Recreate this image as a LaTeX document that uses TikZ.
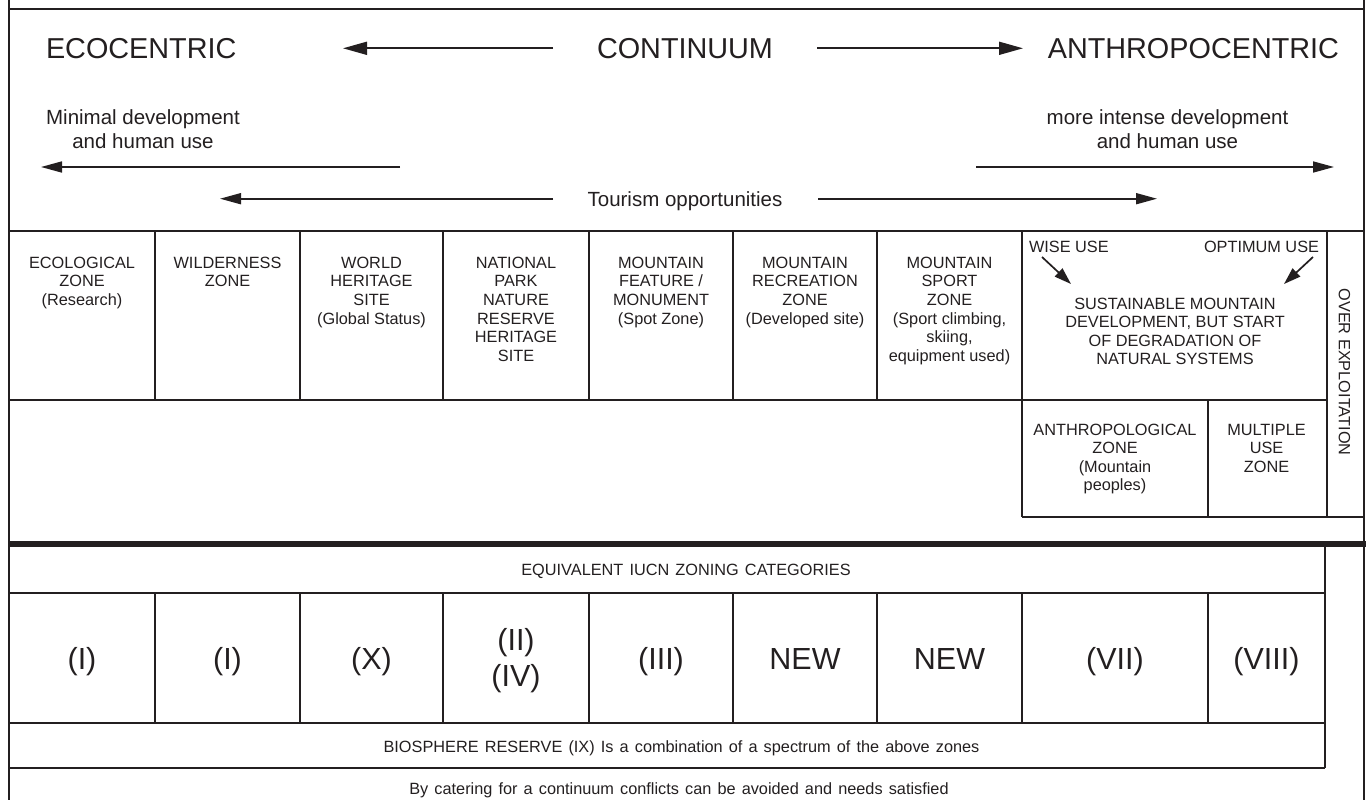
\documentclass[tikz,border=0pt]{standalone}
\usepackage{fontspec}
\setmainfont{Liberation Sans}
\newfontfamily\notefont{Liberation Sans}[WordSpace=1.35]
\usetikzlibrary{arrows.meta}
\definecolor{ink}{RGB}{35,31,32}

\begin{document}
\begin{tikzpicture}[x=1pt,y=-1pt,
  every node/.style={inner sep=0pt, outer sep=0pt, text=ink},
  frame/.style={draw=ink, line width=2.2pt},
  rule/.style={draw=ink, line width=1.8pt},
  heavy/.style={draw=ink, line width=5.5pt},
  big/.style={font=\fontsize{28.8}{34}\selectfont},
  mid/.style={font=\fontsize{20.5}{24}\selectfont},
  cell/.style={font=\fontsize{16.3}{18.6}\selectfont, align=center, anchor=north},
  numeral/.style={font=\fontsize{30.5}{36}\selectfont, anchor=base},
  note/.style={font=\notefont\fontsize{16.3}{20}\selectfont, anchor=base},
  longarrow/.style={draw=ink, line width=1.7pt, -{Triangle[length=24pt,width=13pt]}},
  arrow/.style={draw=ink, line width=1.7pt, -{Triangle[length=21pt,width=11pt]}},
  pointer/.style={draw=ink, line width=1.7pt, -{Triangle[length=17pt,width=11pt]}},
]
\useasboundingbox (0,0) rectangle (1369,800);

% ---------- frame and grid ----------
\draw[frame] (9,0) -- (9,800);
\draw[frame] (1364,0) -- (1364,800);
\draw[frame] (9,9) -- (1364,9);
\draw[rule] (9,231) -- (1364,231);
\foreach \x in {155,300,443,589,733,877} \draw[rule] (\x,231) -- (\x,400);
\draw[rule] (1022,231) -- (1022,517);
\draw[rule] (1327,231) -- (1327,517);
\draw[rule] (9,400) -- (1327,400);
\draw[rule] (1208,400) -- (1208,517);
\draw[rule] (1022,517) -- (1364,517);
\draw[heavy] (9,544) -- (1366,544);
\draw[rule] (9,593) -- (1325,593);
\draw[rule] (9,723) -- (1325,723);
\draw[rule] (9,768) -- (1325,768);
\draw[rule] (1325,544) -- (1325,768);
\foreach \x in {155,300,443,589,733,877,1022,1208} \draw[rule] (\x,593) -- (\x,723);

% ---------- headline: the continuum ----------
\node[big, anchor=base west] (eco) at (46,58.3) {ECOCENTRIC};
\node[big, anchor=base] (cont) at (685,58.3) {CONTINUUM};
\node[big, anchor=base east] (anthro) at (1339,58.3) {ANTHROPOCENTRIC};
\coordinate (contL) at (553,48.3);
\coordinate (contR) at (817,48.3);
\coordinate (ecoTip) at (343,48.3);
\coordinate (anthroTip) at (1023,48.3);
\draw[longarrow] (contL) -- (ecoTip);
\draw[longarrow] (contR) -- (anthroTip);

% ---------- development intensity ----------
\node[mid, align=center, anchor=north] (minimal) at (143,110) {Minimal development\\and human use};
\node[mid, align=center, anchor=north] (intense) at (1167.5,110) {more intense development\\and human use};
\coordinate (minStart) at (400,167);
\coordinate (minTip) at (41,167);
\coordinate (intStart) at (976,167);
\coordinate (intTip) at (1334,167);
\draw[arrow] (minStart) -- (minTip);
\draw[arrow] (intStart) -- (intTip);

% ---------- tourism opportunities ----------
\node[mid, anchor=base] (tourism) at (685,206) {Tourism opportunities};
\coordinate (tourL) at (553,198.7);
\coordinate (tourR) at (818,198.7);
\coordinate (tourLTip) at (220,198.7);
\coordinate (tourRTip) at (1157,198.7);
\draw[arrow] (tourL) -- (tourLTip);
\draw[arrow] (tourR) -- (tourRTip);

% ---------- zones ----------
\node[cell] (ecozone) at (82,257) {ECOLOGICAL\\ZONE\\(Research)};
\node[cell] (wild) at (227.5,257) {WILDERNESS\\ZONE};
\node[cell] (whs) at (371.5,257) {WORLD\\HERITAGE\\SITE\\(Global Status)};
\node[cell] (npark) at (516,257) {NATIONAL\\PARK\\NATURE\\RESERVE\\HERITAGE\\SITE};
\node[cell] (feature) at (661,257) {MOUNTAIN\\FEATURE /\\MONUMENT\\(Spot Zone)};
\node[cell] (recreation) at (805,257) {MOUNTAIN\\RECREATION\\ZONE\\(Developed site)};
\node[cell] (sport) at (949.5,257) {MOUNTAIN\\SPORT\\ZONE\\(Sport climbing,\\skiing,\\equipment used)};
\node[cell] (sustain) at (1175,297.8) {SUSTAINABLE MOUNTAIN\\DEVELOPMENT, BUT START\\OF DEGRADATION OF\\NATURAL SYSTEMS};
\node[cell, anchor=west] (wise) at (1029,247) {WISE USE};
\node[cell, anchor=east] (optimum) at (1319,247) {OPTIMUM USE};
\coordinate (wiseFrom) at (1042,257);
\coordinate (wiseTip) at (1071,284);
\coordinate (optFrom) at (1313,257);
\coordinate (optTip) at (1284,284);
\draw[pointer] (wiseFrom) -- (wiseTip);
\draw[pointer] (optFrom) -- (optTip);
\node[cell] (anthzone) at (1115,423.8) {ANTHROPOLOGICAL\\ZONE\\(Mountain\\peoples)};
\node[cell] (multi) at (1266.5,423.8) {MULTIPLE\\USE\\ZONE};
\node[cell, anchor=center, rotate=-90] (over) at (1344.5,372) {OVER EXPLOITATION};

% ---------- IUCN categories ----------
\node[note] (iucn) at (686,575.5) {EQUIVALENT IUCN ZONING CATEGORIES};
\node[numeral] (n1) at (82,669) {(I)};
\node[numeral] (n2) at (227.5,669) {(I)};
\node[numeral] (n3) at (371.5,669) {(X)};
\node[numeral, anchor=north, align=center] (n4) at (516,628) {(II)\\(IV)};
\node[numeral] (n5) at (661,669) {(III)};
\node[numeral] (n6) at (805,669) {NEW};
\node[numeral] (n7) at (949.5,669) {NEW};
\node[numeral] (n8) at (1115,669) {(VII)};
\node[numeral] (n9) at (1266.5,669) {(VIII)};
\node[note] (bio) at (681.5,752.5) {BIOSPHERE RESERVE (IX) Is a combination of a spectrum of the above zones};
\node[note] (cater) at (679,794) {By catering for a continuum conflicts can be avoided and needs satisfied};
\end{tikzpicture}
\end{document}
